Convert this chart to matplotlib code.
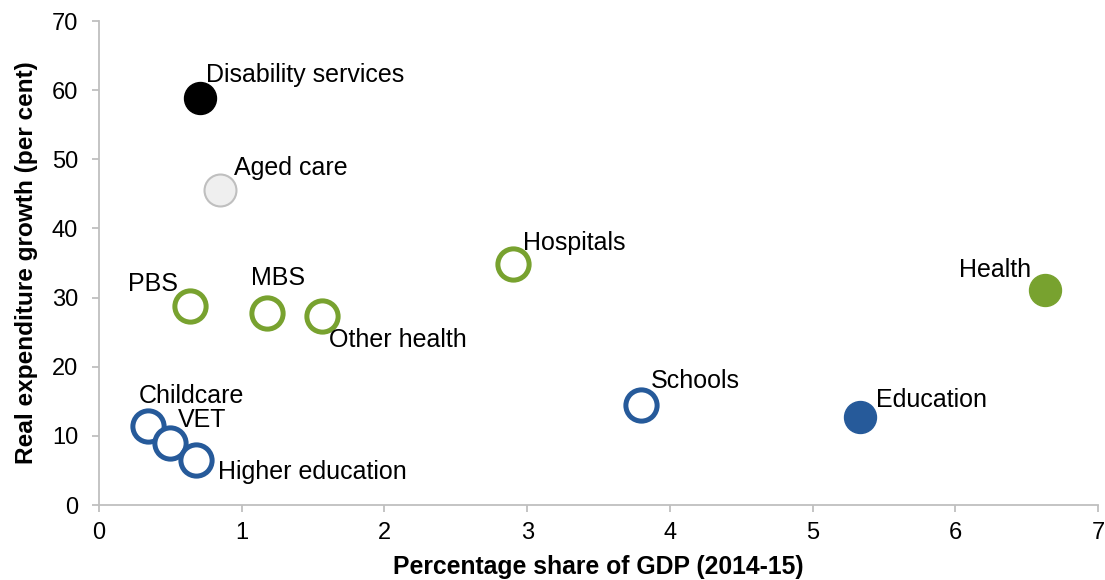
import matplotlib
matplotlib.use("Agg")
import matplotlib.pyplot as plt

plt.rcParams['font.family'] = ['Liberation Sans', 'DejaVu Sans']

labels = ["Disability services", "Aged care", "PBS", "MBS", "Other health",
          "Hospitals", "Health", "Schools", "Education", "Childcare", "VET",
          "Higher education"]
gdp_share = [0.71, 0.85, 0.64, 1.18, 1.56, 2.90, 6.63, 3.80, 5.33, 0.34, 0.50, 0.68]
growth = [58.9, 45.6, 28.8, 27.8, 27.3, 34.9, 31.1, 14.5, 12.7, 11.4, 9.0, 6.5]
kinds = ["black", "aged", "green_o", "green_o", "green_o", "green_o", "green_f",
         "blue_o", "blue_f", "blue_o", "blue_o", "blue_o"]

GREEN = "#78A22F"
BLUE = "#265A9A"
styles = {
    "black": dict(facecolor="black", edgecolor="black", linewidth=1),
    "aged": dict(facecolor="#EFEFEF", edgecolor="#BFBFBF", linewidth=1.5),
    "green_o": dict(facecolor="white", edgecolor=GREEN, linewidth=3.6),
    "green_f": dict(facecolor=GREEN, edgecolor=GREEN, linewidth=1),
    "blue_o": dict(facecolor="white", edgecolor=BLUE, linewidth=3.6),
    "blue_f": dict(facecolor=BLUE, edgecolor=BLUE, linewidth=1),
}
# label offsets in pixels (dx, dy), horizontal alignment
label_pos = {
    "Disability services": (6, 16, "left"),
    "Aged care": (14, 15, "left"),
    "PBS": (-12, 15, "right"),
    "MBS": (-16, 28, "left"),
    "Other health": (7, -31, "left"),
    "Hospitals": (10, 14, "left"),
    "Health": (-14, 13, "right"),
    "Schools": (9, 17, "left"),
    "Education": (16, 10, "left"),
    "Childcare": (-9, 23, "left"),
    "VET": (8, 16, "left"),
    "Higher education": (22, -19, "left"),
}

fig = plt.figure(figsize=(11.05, 5.8), dpi=100)
ax = fig.add_axes([99/1105, 1-505/580, (1098-99)/1105, (505-21)/580])

for lab, x, y, k in zip(labels, gdp_share, growth, kinds):
    st = styles[k]
    size = 23.0 if not k.endswith("_o") else 22.5
    ax.scatter([x], [y], s=size**2,
               facecolors=st["facecolor"], edgecolors=st["edgecolor"],
               linewidths=st["linewidth"], zorder=3, clip_on=False)
    dx, dy, ha = label_pos[lab]
    ax.annotate(lab, (x, y), xytext=(dx * 0.72, dy * 0.72), textcoords="offset points",
                ha=ha, va="baseline", fontsize=18, color="black", zorder=4)

ax.set_xlim(0, 7)
ax.set_ylim(0, 70)
ax.set_xticks(range(0, 8))
ax.set_yticks(range(0, 80, 10))
for s in ["top", "right"]:
    ax.spines[s].set_visible(False)
for s in ["left", "bottom"]:
    ax.spines[s].set_color("#BFBFBF")
    ax.spines[s].set_linewidth(1.3)
ax.tick_params(axis="both", colors="#BFBFBF", labelcolor="black", labelsize=17,
               length=5, width=1.3, direction="out")
ax.tick_params(axis="x", pad=7)
ax.tick_params(axis="y", pad=10)
ax.set_xlabel("Percentage share of GDP (2014-15)", fontsize=17.8, fontweight="bold", labelpad=8)
ax.set_ylabel("Real expenditure growth (per cent)", fontsize=17.6, fontweight="bold", labelpad=10)

fig.savefig("out.png", dpi=100)
